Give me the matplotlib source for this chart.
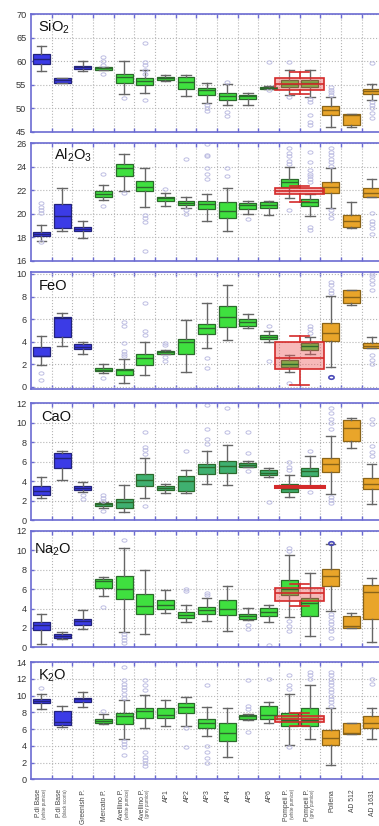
import matplotlib
matplotlib.use('Agg')
import matplotlib.pyplot as plt
import numpy as np
from matplotlib.path import Path

plt.rcParams['font.family'] = ['Liberation Sans', 'DejaVu Sans']
plt.rcParams['mathtext.fontset'] = 'custom'
plt.rcParams['mathtext.rm'] = 'Liberation Sans'
plt.rcParams['mathtext.it'] = 'Liberation Sans'
plt.rcParams['mathtext.default'] = 'regular'

# ---------------- data ----------------
CATEGORIES = ["P.di Base", "P.di Base", "Greenish P.", "Mercato P.", "Avellino P.",
              "Avellino P.", "AP1", "AP2", "AP3", "AP4", "AP5", "AP6",
              "Pompeii P.", "Pompeii P.", "Pollena", "AD 512", "AD 1631"]
SUBLABELS = ["(white pumice)", "(black scoria)", "", "", "(white pumice)",
             "(grey pumice)", "", "", "", "", "", "",
             "(white pumice)", "(grey pumice)", "", "", ""]
GROUPS = ["blue"] * 3 + ["green"] * 11 + ["orange"] * 3

SIO2_Q1 = [59.4, 55.3, 58.3, 58.2, 55.4, 55.0, 56.0, 54.1, 52.9, 51.8, 51.9, 54.0, 54.6, 54.6, 48.5, 46.5, 53.0]
SIO2_MED = [60.5, 56.0, 58.7, 58.5, 56.6, 55.8, 56.3, 55.6, 53.8, 52.6, 52.5, 54.2, 55.2, 55.3, 49.7, 48.5, 53.6]
SIO2_Q3 = [61.5, 56.4, 59.0, 58.7, 57.3, 56.3, 56.7, 56.7, 54.3, 53.3, 52.9, 54.4, 56.0, 56.0, 50.5, 48.7, 54.1]
SIO2_LO = [57.8, 55.3, 57.8, 58.2, 53.1, 53.3, 55.7, 52.6, 51.2, 50.6, 50.7, 54.0, 52.8, 52.3, 45.9, 46.1, 51.7]
SIO2_HI = [63.2, 56.4, 60.0, 58.7, 60.0, 58.1, 57.0, 57.0, 55.3, 55.1, 53.2, 54.7, 58.0, 58.0, 52.4, 48.7, 55.1]
SIO2_OUT = [[], [], [], [60.8, 60.0, 59.2, 57.3], [52.2], [63.8, 59.9, 59.2, 58.1, 57.3, 51.7],
            [], [], [50.7, 50.0, 49.4], [55.6, 49.1, 48.4], [], [59.9, 53.9], [59.9, 52.4],
            [51.9, 51.4, 48.5, 47.1, 46.4], [54.6, 53.8, 53.5, 52.8], [],
            [59.5, 51.4, 50.7, 50.0, 49.0, 48.0]]

AL2O3_Q1 = [18.07, 18.76, 18.5, 21.45, 23.25, 21.9, 21.1, 20.75, 20.4, 19.6, 20.4, 20.45, 22.3, 20.65, 21.8, 18.9, 21.4]
AL2O3_MED = [18.3, 19.8, 18.7, 21.7, 23.9, 22.3, 21.3, 20.9, 20.8, 20.2, 20.75, 20.75, 22.7, 21.0, 22.3, 19.4, 21.8]
AL2O3_Q3 = [18.47, 20.8, 18.9, 21.9, 24.2, 22.8, 21.4, 21.1, 21.1, 21.0, 20.9, 21.0, 23.0, 21.25, 22.7, 19.9, 22.2]
AL2O3_LO = [17.7, 18.56, 17.9, 21.2, 21.9, 20.6, 20.7, 20.5, 19.4, 18.5, 20.0, 19.9, 21.3, 19.8, 20.5, 18.8, 21.4]
AL2O3_HI = [19.04, 22.2, 19.4, 22.45, 25.1, 23.9, 21.8, 21.4, 21.7, 22.2, 21.1, 21.1, 24.0, 21.7, 23.9, 21.0, 23.0]
AL2O3_OUT = [[20.9, 20.6, 20.3, 20.1, 17.6], [], [], [23.4, 20.7], [21.8], [19.9, 19.6, 19.3, 16.8],
             [22.1], [24.7, 20.3, 20.0], [25.9, 25.0, 24.9, 23.9, 23.4, 23.0], [23.9, 23.2], [19.55], [],
             [25.6, 25.2, 24.9, 24.5, 24.2, 20.3], [25.3, 24.4, 23.7, 23.4, 23.2, 23.0, 22.7, 18.9, 18.6],
             [25.6, 25.3, 25.0, 24.7, 24.4, 24.1, 20.3, 20.0, 19.6], [], [20.1, 19.4, 19.1, 18.8, 18.3]]

FEO_Q1 = [2.7, 4.4, 3.33, 1.37, 1.08, 1.96, 2.9, 2.87, 4.65, 5.26, 5.4, 4.2, 1.75, 3.3, 4.04, 7.4, 3.4]
FEO_MED = [2.75, 6.1, 3.5, 1.52, 1.46, 2.57, 3.07, 3.95, 5.2, 6.14, 5.7, 4.44, 2.05, 3.57, 4.74, 7.98, 3.63]
FEO_Q3 = [3.5, 6.2, 3.75, 1.67, 1.6, 2.9, 3.2, 4.2, 5.6, 7.2, 6.0, 4.6, 2.34, 3.9, 5.64, 8.54, 3.9]
FEO_LO = [1.96, 3.6, 2.9, 1.2, 0.35, 1.0, 2.86, 1.3, 3.45, 4.15, 5.2, 4.0, 1.3, 2.87, 1.75, 7.25, 3.4]
FEO_HI = [4.5, 6.5, 4.0, 2.05, 2.5, 4.0, 3.3, 5.96, 7.45, 9.06, 6.43, 4.97, 2.78, 4.4, 8.04, 8.6, 4.4]
FEO_OUT = [[1.2, 0.6], [], [], [0.8], [5.7, 5.4, 3.86, 3.2, 2.9, 2.7], [7.4, 4.9, 4.6],
           [3.9, 3.7, 2.6, 2.3], [], [2.57, 1.7], [], [], [5.4, 2.3], [0.35], [5.4, 5.1, 4.8],
           [9.3, 9.0, 8.6, 8.3], [], [10.0, 9.8, 9.5, 9.1, 8.6, 2.8, 2.4, 2.0]]

CAO_Q1 = [2.6, 5.3, 3.13, 1.46, 1.28, 3.47, 3.1, 2.95, 4.76, 4.86, 5.5, 4.58, 2.88, 4.5, 4.93, 8.16, 3.23]
CAO_MED = [3.0, 6.35, 3.3, 1.63, 1.84, 4.13, 3.3, 4.0, 5.45, 5.56, 5.7, 4.86, 3.23, 5.03, 5.8, 9.48, 3.72]
CAO_Q3 = [3.47, 6.84, 3.47, 1.77, 2.2, 4.7, 3.5, 4.5, 5.73, 6.08, 5.9, 5.14, 3.75, 5.38, 6.42, 10.3, 4.27]
CAO_LO = [2.26, 4.13, 2.9, 1.2, 0.87, 2.26, 2.74, 2.78, 3.75, 3.65, 5.45, 4.4, 2.33, 3.54, 2.67, 7.36, 1.63]
CAO_HI = [4.4, 7.05, 3.9, 1.9, 3.65, 6.4, 3.7, 5.1, 7.05, 7.74, 6.08, 5.38, 4.58, 6.6, 8.68, 10.5, 5.8]
CAO_OUT = [[], [], [2.6, 2.2], [2.6, 2.3, 2.0, 0.94], [], [9.0, 7.5, 7.2, 6.8, 1.4], [], [7.1],
           [11.8, 9.4, 8.3, 7.8], [11.5, 9.1], [9.0, 6.94, 5.0], [1.9], [6.0, 5.4, 5.1], [7.1, 2.9],
           [11.5, 11.0, 10.4, 10.0, 9.4, 2.4, 2.1, 1.74], [], [10.4, 9.9, 7.6, 7.0, 6.6]]

NA2O_Q1 = [1.78, 0.94, 2.34, 6.12, 5.0, 3.43, 3.95, 3.04, 3.46, 3.36, 2.97, 3.18, 5.35, 3.25, 6.3, 1.99, 2.9]
NA2O_MED = [2.27, 1.15, 2.76, 6.82, 6.05, 4.3, 4.37, 3.36, 3.88, 3.95, 3.18, 3.67, 6.05, 4.58, 7.38, 2.2, 5.7]
NA2O_Q3 = [2.62, 1.36, 2.97, 7.03, 7.38, 5.52, 4.83, 3.67, 4.13, 4.83, 3.43, 4.02, 6.92, 5.07, 8.08, 3.25, 6.4]
NA2O_LO = [0.38, 0.87, 1.85, 5.28, 1.57, 1.33, 3.53, 2.62, 2.69, 1.68, 2.83, 2.62, 3.08, 1.15, 3.78, 2.0, 0.56]
NA2O_HI = [3.43, 1.57, 3.85, 7.27, 10.24, 7.97, 5.87, 4.37, 5.07, 6.33, 4.02, 4.37, 9.48, 7.62, 10.66, 3.53, 7.17]
NA2O_OUT = [[], [], [], [4.13], [11.05, 1.4, 1.1, 0.8, 0.45], [], [], [6.05, 5.77], [5.63, 5.35], [],
            [2.27, 1.92], [0.28], [10.24, 9.9, 2.73, 2.2, 1.68], [],
            [3.43, 3.08, 2.73, 2.38, 2.03, 1.68, 1.0], [], []]

K2O_Q1 = [9.1, 6.43, 9.22, 6.76, 6.6, 7.3, 7.3, 7.9, 6.15, 4.63, 7.2, 7.17, 6.4, 6.4, 4.14, 5.45, 6.07]
K2O_MED = [9.34, 6.89, 9.55, 6.97, 7.58, 8.11, 7.7, 8.6, 6.76, 5.53, 7.5, 7.7, 7.09, 7.09, 4.96, 5.53, 6.76]
K2O_Q3 = [9.55, 8.11, 9.75, 7.17, 7.9, 8.48, 8.48, 9.14, 7.2, 6.76, 7.7, 8.73, 7.9, 8.52, 5.94, 6.68, 7.58]
K2O_LO = [8.4, 6.19, 8.65, 6.6, 4.84, 6.07, 6.4, 6.35, 5.12, 2.66, 7.09, 6.68, 4.14, 4.84, 1.68, 5.37, 4.84]
K2O_HI = [10.16, 8.73, 10.45, 7.83, 9.47, 10.04, 9.47, 9.84, 8.65, 8.52, 7.83, 9.22, 10.16, 11.27, 8.52, 6.76, 8.52]
K2O_OUT = [[10.86], [], [], [8.1], [13.4, 11.8, 11.4, 11.0, 10.6, 10.2, 9.75, 4.6, 4.2, 3.8, 2.9],
           [11.8, 11.2, 10.6, 3.2, 2.7, 2.3, 2.0, 1.6], [], [6.07, 3.8], [11.2, 4.0, 3.2, 2.5, 2.0], [],
           [11.8, 8.73, 8.4, 5.65], [12.0], [12.4, 11.2, 10.8, 3.8], [12.8, 12.4, 12.0],
           [12.8, 12.4, 12.0, 11.6, 11.2, 10.8, 10.4, 10.0, 9.6, 9.2, 8.8], [], [12.0, 11.4]]

# Red overlay (Pompeii P. whole deposit), one per panel: SiO2, Al2O3, FeO, CaO, Na2O, K2O
RED_Q1 = [53.9, 21.65, 1.55, 3.42, 4.76, 6.89]
RED_MED = [55.1, 21.95, 2.57, 3.47, 5.6, 7.17]
RED_Q3 = [56.5, 22.2, 3.95, 3.52, 6.12, 7.58]
RED_LO = [53.0, 21.0, 0.18, 3.42, 4.3, 6.35]
RED_HI = [57.7, 22.4, 4.47, 3.52, 6.54, 7.9]

# darker highlighted outliers (category index, value) per panel
DARK_OUT = [[], [], [(14, 0.88)], [], [(14, 10.77)], []]

PANEL_NAMES = ["SiO$_2$", "Al$_2$O$_3$", "FeO", "CaO", "Na$_2$O", "K$_2$O"]
YTICKS = [[45, 50, 55, 60, 65, 70], [16, 18, 20, 22, 24, 26], [0, 2, 4, 6, 8, 10],
          [0, 2, 4, 6, 8, 10, 12], [0, 2, 4, 6, 8, 10, 12], [0, 2, 4, 6, 8, 10, 12, 14]]

PANELS = [
    (SIO2_Q1, SIO2_MED, SIO2_Q3, SIO2_LO, SIO2_HI, SIO2_OUT),
    (AL2O3_Q1, AL2O3_MED, AL2O3_Q3, AL2O3_LO, AL2O3_HI, AL2O3_OUT),
    (FEO_Q1, FEO_MED, FEO_Q3, FEO_LO, FEO_HI, FEO_OUT),
    (CAO_Q1, CAO_MED, CAO_Q3, CAO_LO, CAO_HI, CAO_OUT),
    (NA2O_Q1, NA2O_MED, NA2O_Q3, NA2O_LO, NA2O_HI, NA2O_OUT),
    (K2O_Q1, K2O_MED, K2O_Q3, K2O_LO, K2O_HI, K2O_OUT),
]

# ---------------- layout / style ----------------
W, H = 379, 826
X0_PX = 30.5
UNIT_PX = 20.65
XLIM = (-0.53, 16.6)
PANEL_PX = [(14, 131.7), (143.3, 260.7), (271.7, 389.0), (403.3, 520), (531, 647.3), (662, 779.3)]
YLIMS = [(45, 70), (16, 26), (-0.2, 10.2), (0, 12), (0, 12), (0, 14)]
NAME_POS = [(38, 31.7), (54, 160), (39, 289.5), (41, 421), (34, 554), (38, 680)]

SPINE = '#6b6bd2'
FILL = {'blue': '#3b3be6', 'green': '#3fe03f', 'orange': '#e9a52a'}
EDGE = {'blue': '#23237a', 'green': '#2c6a2c', 'orange': '#8a6418'}
CAO_GREEN = '#3fb070'
RED = '#d42a2a'

# ellipse marker for outliers
t = np.linspace(0, 2 * np.pi, 40)
ELLIPSE = Path(np.column_stack([1.5 * np.cos(t), np.sin(t)]))

fig = plt.figure(figsize=(W / 100, H / 100), dpi=100)
fig.patch.set_facecolor('white')

n = len(CATEGORIES)
pos = np.arange(n)
axes = []
for k, (q1, med, q3, lo, hi, out) in enumerate(PANELS):
    top, bot = PANEL_PX[k]
    rect = [X0_PX / W, 1 - bot / H, (XLIM[1] - XLIM[0]) * UNIT_PX / W, (bot - top) / H]
    ax = fig.add_axes(rect)
    axes.append(ax)
    ax.set_xlim(*XLIM)
    ax.set_ylim(*YLIMS[k])
    ax.set_axisbelow(True)

    stats = [dict(q1=q1[i], med=med[i], q3=q3[i], whislo=lo[i], whishi=hi[i],
                  fliers=np.array(out[i])) for i in range(n)]
    bp = ax.bxp(stats, positions=pos, widths=0.82, patch_artist=True, capwidths=0.45,
                manage_ticks=False,
                whiskerprops=dict(color='#666666', lw=1.0),
                capprops=dict(color='#666666', lw=1.0),
                medianprops=dict(lw=1.0),
                flierprops=dict(marker=ELLIPSE, markersize=3.6, markerfacecolor='none',
                                markeredgecolor='#bdbde2', markeredgewidth=0.7))
    for i, g in enumerate(GROUPS):
        fc = FILL[g]
        if k == 3 and g == 'green':
            fc = CAO_GREEN
        bp['boxes'][i].set_facecolor(fc)
        bp['boxes'][i].set_edgecolor(EDGE[g])
        bp['boxes'][i].set_linewidth(0.9)
        bp['medians'][i].set_color(EDGE[g])

    for (ci, v) in DARK_OUT[k]:
        ax.plot([ci], [v], linestyle='none', marker=ELLIPSE, markersize=3.8,
                markerfacecolor='none', markeredgecolor='#4a4ab8', markeredgewidth=1.2)

    # red overlay for Pompeii P. whole
    rlw = 2.2 if k == 3 else 1.2
    rstat = [dict(q1=RED_Q1[k], med=RED_MED[k], q3=RED_Q3[k], whislo=RED_LO[k],
                  whishi=RED_HI[k], fliers=np.array([]))]
    ax.bxp(rstat, positions=[12.5], widths=2.4, patch_artist=True, capwidths=0.9,
           manage_ticks=False, showfliers=False,
           boxprops=dict(facecolor=(0.93, 0.35, 0.35, 0.42), edgecolor=RED, lw=rlw),
           whiskerprops=dict(color=RED, lw=1.2), capprops=dict(color=RED, lw=1.2),
           medianprops=dict(color=RED, lw=rlw))

    # ticks / grid
    ax.set_xticks(np.arange(0.5, n, 1.0))
    ax.set_xticklabels([])
    ax.set_yticks(YTICKS[k])
    ax.set_yticklabels([str(v) for v in YTICKS[k]])
    ax.tick_params(axis='x', direction='in', top=True, bottom=True, length=3,
                   color=SPINE, width=1.0)
    ax.tick_params(axis='y', direction='in', left=True, right=False, length=2.5,
                   color=SPINE, width=1.0, labelsize=6.6, labelcolor='#333333', pad=3)
    ax.grid(True, which='major', linestyle=':', color='#b5b5b5', lw=0.8)
    for s in ax.spines.values():
        s.set_color(SPINE)
        s.set_linewidth(1.2)

    nx, ny = NAME_POS[k]
    fig.text(nx / W, 1 - ny / H, PANEL_NAMES[k], fontsize=10.5, color='#111111',
             ha='left', va='baseline')

# category labels under bottom panel
axb = axes[-1]
for i in range(n):
    if SUBLABELS[i]:
        axb.annotate(CATEGORIES[i], xy=(i, 0), xycoords=('data', 'axes fraction'),
                     xytext=(-1.9, -7.0), textcoords='offset points', rotation=90,
                     ha='center', va='top', fontsize=4.9, color='#444444')
        axb.annotate(SUBLABELS[i], xy=(i, 0), xycoords=('data', 'axes fraction'),
                     xytext=(2.2, -7.0), textcoords='offset points', rotation=90,
                     ha='center', va='top', fontsize=3.3, color='#555555')
    else:
        axb.annotate(CATEGORIES[i], xy=(i, 0), xycoords=('data', 'axes fraction'),
                     xytext=(0.8, -7.0), textcoords='offset points', rotation=90,
                     ha='center', va='top', fontsize=4.9, color='#444444')

fig.savefig('out.png', dpi=100, facecolor='white')
